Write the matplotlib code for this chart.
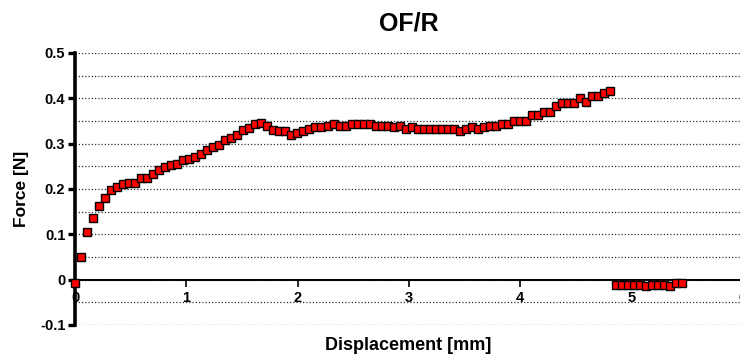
import numpy as np
import matplotlib
matplotlib.use('Agg')
import matplotlib.pyplot as plt
from matplotlib.ticker import MultipleLocator

plt.rcParams['font.family'] = ['Liberation Sans', 'DejaVu Sans']
plt.rcParams['font.weight'] = 'bold'

# displacement step between samples (mm)
step = 0.054

# force readings (N) along the loading curve
force_main = [
    -0.008, 0.049, 0.106, 0.137, 0.163, 0.180, 0.197, 0.205, 0.210, 0.214,
    0.214, 0.224, 0.224, 0.233, 0.241, 0.248, 0.252, 0.256, 0.263, 0.267,
    0.271, 0.278, 0.286, 0.293, 0.298, 0.308, 0.312, 0.320, 0.331, 0.335,
    0.343, 0.346, 0.339, 0.331, 0.327, 0.327, 0.320, 0.324, 0.329, 0.332,
    0.336, 0.336, 0.340, 0.343, 0.340, 0.340, 0.343, 0.343, 0.343, 0.343,
    0.340, 0.340, 0.340, 0.336, 0.340, 0.332, 0.336, 0.332, 0.332, 0.332,
    0.332, 0.332, 0.332, 0.332, 0.328, 0.332, 0.336, 0.332, 0.336, 0.340,
    0.340, 0.343, 0.343, 0.351, 0.351, 0.351, 0.363, 0.363, 0.370, 0.370,
    0.382, 0.389, 0.389, 0.389, 0.401, 0.393, 0.405, 0.405, 0.412, 0.416,
]
# readings after the break
force_tail = [
    -0.012, -0.012, -0.012, -0.012, -0.012, -0.015,
    -0.012, -0.012, -0.012, -0.015, -0.008, -0.008,
]

force = np.array(force_main + force_tail)
disp = np.arange(len(force)) * step

fig = plt.figure(figsize=(7.4, 3.56), dpi=100)
ax = fig.add_axes([75/740, 31/356, (743-75)/740, (325-53)/356])

ax.plot(disp, force, linestyle='none', marker='s', markersize=5.2,
        markerfacecolor='#ff0000', markeredgecolor='black',
        markeredgewidth=1.0, clip_on=False, zorder=5)

ax.set_xlim(0, 6)
ax.set_ylim(-0.1, 0.5)

ax.spines['top'].set_visible(False)
ax.spines['right'].set_visible(False)
ax.spines['bottom'].set_position(('data', 0))
ax.spines['left'].set_linewidth(2.6)
ax.spines['bottom'].set_linewidth(1.4)

ax.yaxis.set_major_locator(MultipleLocator(0.1))
ax.yaxis.set_minor_locator(MultipleLocator(0.05))
ax.set_xticks([0, 1, 2, 3, 4, 5, 6])
ax.set_xticklabels(['0', '1', '2', '3', '4', '5', '6'])
ax.set_yticks([-0.1, 0, 0.1, 0.2, 0.3, 0.4, 0.5])
ax.set_yticklabels(['-0.1', '0', '0.1', '0.2', '0.3', '0.4', '0.5'])

ax.tick_params(axis='y', which='major', length=5, width=2.4, pad=2,
               labelsize=10.5)
ax.tick_params(axis='y', which='minor', length=0)
ax.tick_params(axis='x', which='major', length=5, width=1.2, pad=3,
               labelsize=10.5)

ax.grid(axis='y', which='both', linestyle=(0, (1, 1.6)), color='#333333',
        linewidth=0.9)
ax.set_axisbelow(True)

ax.set_title('OF/R', fontsize=18, fontweight='bold', pad=16)
ax.set_ylabel('Force [N]', fontsize=12.5, fontweight='bold', labelpad=8)
fig.text(408/740, 1 - 345/356, 'Displacement [mm]', fontsize=13,
         fontweight='bold', ha='center', va='center')

fig.savefig('out.png', dpi=100)
